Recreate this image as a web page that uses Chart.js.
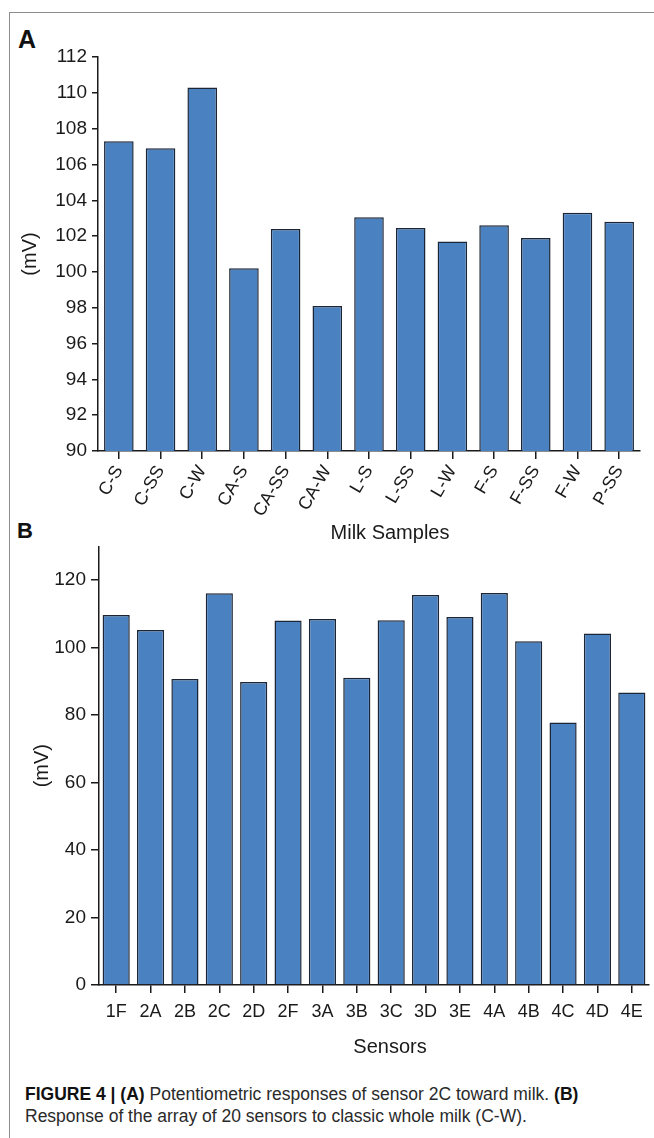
<!DOCTYPE html>
<html lang="en">
<head>
  <meta charset="UTF-8" />
  <title>Figure 4 - potentiometric responses</title>
  <style>
    body {
      margin: 0;
      background: #fff;
      font-family: "Liberation Sans", Arial, sans-serif;
    }
    #fig {
      position: relative;
      width: 654px;
      height: 1138px;
      overflow: hidden;
    }
    /* grey frame round the figure (top and left only) */
    .frame {
      position: absolute;
      left: 9px;
      top: 12px;
      right: -5px;
      bottom: -5px;
      border-top: 1px solid #8c8c8c;
      border-left: 1px solid #8c8c8c;
    }
    .panel {
      position: absolute;
      font-weight: bold;
      line-height: 1;
      color: #111;
    }
    canvas {
      position: absolute;
      left: 0;
    }
    /* x axis titles sit a little right of the plot centre in the figure */
    .xtitle {
      position: absolute;
      left: 390px;
      transform: translateX(-50%);
      font-size: 20px;
      line-height: 20px;
      color: #1a1a1a;
      white-space: nowrap;
    }
    .caption {
      position: absolute;
      left: 25px;
      top: 1083px;
      font-size: 17.5px;
      line-height: 22px;
      color: #2a2a2a;
      white-space: nowrap;
    }
    .caption b { color: #111; }
  </style>
</head>
<body>
  <div id="fig">
    <div class="frame"></div>
    <div class="panel" style="left:18px; top:27px; font-size:25px;">A</div>
    <div class="panel" style="left:17px; top:520px; font-size:22px;">B</div>

    <canvas id="chartA" width="654" height="550" style="top:0;"></canvas>
    <canvas id="chartB" width="654" height="540" style="top:530px;"></canvas>

    <div class="xtitle" style="top:522px;">Milk Samples</div>
    <div class="xtitle" style="top:1036px;">Sensors</div>

    <div class="caption">
      <b>FIGURE 4 | (A)</b> Potentiometric responses of sensor 2C toward milk. <b>(B)</b><br>
      Response of the array of 20 sensors to classic whole milk (C-W).
    </div>
  </div>

  <script src="https://cdn.jsdelivr.net/npm/chart.js@4.4.1/dist/chart.umd.min.js"></script>
  <script>
    // ---- data ----
    // (A) sensor 2C, milk samples
    const sampleLabels = ["C-S", "C-SS", "C-W", "CA-S", "CA-SS", "CA-W", "L-S",
                          "L-SS", "L-W", "F-S", "F-SS", "F-W", "P-SS"];
    const sampleValues = [107.3, 106.9, 110.3, 100.2, 102.4, 98.1, 103.05,
                          102.45, 101.7, 102.6, 101.9, 103.3, 102.8];
    const rangeA = [90, 112];
    const stepA = 2;

    // (B) the sensor array, classic whole milk
    const sensorLabels = ["1F", "2A", "2B", "2C", "2D", "2F", "3A", "3B",
                          "3C", "3D", "3E", "4A", "4B", "4C", "4D", "4E"];
    const sensorValues = [109.7, 105.2, 90.7, 116.1, 89.8, 108.0, 108.5, 91.1,
                          108.1, 115.6, 109.1, 116.2, 101.9, 77.8, 104.2, 86.7];
    const rangeB = [0, 130];
    const stepB = 20;

    // ---- shared look ----
    const INK = "#1a1a1a";
    const BAR_FILL = "#4a81c1";
    const BAR_EDGE = "#1b2536";
    const FONT = "'Liberation Sans', Arial, sans-serif";

    Chart.defaults.font.family = FONT;
    Chart.defaults.color = INK;
    Chart.defaults.animation = false;

    function barChart(canvasId, labels, values, opt) {
      const ctx = document.getElementById(canvasId).getContext("2d");
      return new Chart(ctx, {
        type: "bar",
        data: {
          labels: labels,
          datasets: [{
            data: values,
            backgroundColor: BAR_FILL,
            borderColor: BAR_EDGE,
            borderWidth: 1.5,
            barPercentage: opt.barPct,
            categoryPercentage: 1
          }]
        },
        options: {
          responsive: false,
          layout: { padding: opt.padding },
          plugins: { legend: { display: false }, tooltip: { enabled: false } },
          scales: {
            x: {
              afterFit: s => { s.height = opt.xHeight; },
              border: { display: true, color: INK, width: 1.5 },
              grid: {
                display: true, drawOnChartArea: false, offset: false,
                tickLength: opt.xTick, color: INK, lineWidth: 1.5
              },
              ticks: {
                font: { size: 18 },
                color: INK,
                padding: opt.xPad,
                minRotation: opt.rot,
                maxRotation: opt.rot,
                autoSkip: false
              }
            },
            y: {
              min: opt.range[0],
              max: opt.range[1],
              afterFit: s => { s.width = opt.yWidth; },
              border: { display: true, color: INK, width: 1.5 },
              grid: {
                display: true, drawOnChartArea: false,
                tickLength: opt.yTick, color: INK, lineWidth: 1.5
              },
              ticks: {
                stepSize: opt.step,
                includeBounds: false,
                font: { size: 19 },
                color: INK,
                padding: 5
              },
              title: {
                display: true, text: "(mV)", color: INK,
                font: { size: 20 }, padding: { top: opt.yTitlePad, bottom: 0 }
              }
            }
          }
        }
      });
    }

    barChart("chartA", sampleLabels, sampleValues, {
      range: rangeA, step: stepA, barPct: 0.71, rot: 60,
      padding: { left: 0, right: 14, top: 57, bottom: 0 },
      xHeight: 99, yWidth: 98, xTick: 8, yTick: 6, xPad: 3,
      yTitlePad: 18
    });

    barChart("chartB", sensorLabels, sensorValues, {
      range: rangeB, step: stepB, barPct: 0.79, rot: 0,
      padding: { left: 0, right: 5, top: 13, bottom: 0 },
      xHeight: 85, yWidth: 99, xTick: 8, yTick: 8, xPad: 8,
      yTitlePad: 30
    });
  </script>
</body>
</html>
